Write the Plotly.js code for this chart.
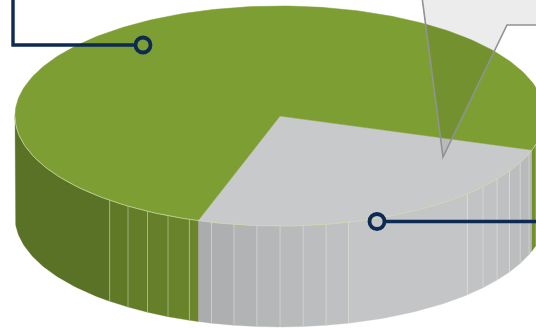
<!DOCTYPE html>
<html>
<head>
<meta charset="utf-8">
<script src="https://cdn.plot.ly/plotly-3.0.1.min.js"></script>
<style>html,body{margin:0;padding:0;background:#fff;}#chart{width:536px;height:328px;}</style>
</head>
<body>
<div id="chart"></div>
<script>
// ---- data ----
const categories = ['Gray share', 'Green share'];
const values = [25, 75];
const topColors = ['#c8c9cb', '#7d9e33'];
const startAngle = 18; // degrees, measured clockwise on screen from east

// ---- geometry (3-D pie projection) ----
const cx = 280, cy = 116, rx = 265, ry = 110, depth = 101;
const rad = d => d * Math.PI / 180;
const px = a => cx + rx * Math.cos(rad(a));
const py = (a, dz) => cy + ry * Math.sin(rad(a)) + (dz || 0);

function hexToRgb(h){h=h.replace('#','');return [0,2,4].map(i=>parseInt(h.substr(i,2),16));}
function shade(hex, f){return 'rgb('+hexToRgb(hex).map(v=>Math.max(0,Math.min(255,Math.round(v*f)))).join(',')+')';}
function bright(a){
  const c = Math.cos(rad(a - 55));
  return 0.72 + 0.26 * (c > 0 ? Math.pow(c, 1.39) : 0);
}
// facet boundaries every 5 degrees except over the smooth stretches
function isBoundary(a){
  const m = ((a % 360) + 360) % 360;
  if (m > 46 && m < 73) return false;
  if (m > 134 && m < 180) return false;
  return true;
}

const total = values.reduce((s,v)=>s+v,0);
const traces = [];
let acc = startAngle;
const slices = values.map((v,i)=>{const a0=acc;acc+=v/total*360;return {a0:a0,a1:acc,i:i};});

const step = 5;
function addFacet(s, a, b){
  const mid = (((a+b)/2) % 360 + 360) % 360;
  if (!(mid > 0 && mid < 180)) return;
  const xs=[], ys=[];
  const n = Math.max(2, Math.ceil(b-a));
  for (let k=0;k<=n;k++){const t=a+(b-a)*k/n;xs.push(px(t));ys.push(py(t));}
  for (let k=n;k>=0;k--){const t=a+(b-a)*k/n;xs.push(px(t));ys.push(py(t,depth));}
  xs.push(xs[0]); ys.push(ys[0]);
  const f = bright(mid);
  traces.push({type:'scatter',mode:'lines',x:xs,y:ys,fill:'toself',
    fillcolor:shade(topColors[s.i], f),
    line:{color:shade(topColors[s.i], f),width:0.3},
    hoverinfo:'skip',showlegend:false});
}
const seps = [];
slices.forEach(s=>{
  let a = s.a0, segStart = s.a0;
  while (a < s.a1 - 1e-9) {
    let b = Math.min(s.a1, (Math.floor(a/step)+1)*step);
    // split at 0/180/360 visibility limits too
    [180,360].forEach(lim=>{ if (a < lim && b > lim) b = lim; });
    const m = ((b % 360) + 360) % 360;
    if (b >= s.a1 - 1e-9 || isBoundary(b) || m === 0 || m === 180) {
      addFacet(s, segStart, b);
      if (b < s.a1 - 1e-9 && m > 0 && m < 180) seps.push(b);
      segStart = b;
    }
    a = b;
  }
});

// light separator lines between facets
seps.forEach(t=>{
  traces.push({type:'scatter',mode:'lines',x:[px(t),px(t)],y:[py(t),py(t,depth)],
    line:{color:'rgba(235,240,225,0.55)',width:0.8},hoverinfo:'skip',showlegend:false});
});

// top faces
slices.forEach(s=>{
  const xs=[cx], ys=[cy];
  const n = Math.ceil(s.a1 - s.a0);
  for (let k=0;k<=n;k++){const t=s.a0+(s.a1-s.a0)*k/n;xs.push(px(t));ys.push(py(t));}
  xs.push(cx); ys.push(cy);
  traces.push({type:'scatter',mode:'lines',x:xs,y:ys,fill:'toself',
    fillcolor:topColors[s.i],line:{color:topColors[s.i],width:0.5},
    name:categories[s.i],hoverinfo:'name',showlegend:false});
});

// rim highlight along the front edge
(function(){
  const xs=[], ys=[];
  for (let t=0;t<=180;t++){xs.push(px(t));ys.push(py(t));}
  traces.push({type:'scatter',mode:'lines',x:xs,y:ys,
    line:{color:'rgba(205,218,170,0.95)',width:0.8},hoverinfo:'skip',showlegend:false});
})();

const navy = '#0c2a52';
const layout = {
  width:536, height:328,
  margin:{l:0,r:0,t:0,b:0},
  paper_bgcolor:'#ffffff', plot_bgcolor:'#ffffff',
  xaxis:{range:[0,536],visible:false,fixedrange:true},
  yaxis:{range:[328,0],visible:false,fixedrange:true},
  showlegend:false,
  shapes:[
    {type:'path',xref:'x',yref:'y',path:'M 422,-3 L 443,157 L 507,25 L 545,25 L 545,-3 Z',
      fillcolor:'rgba(0,0,0,0.075)',line:{color:'#8f9296',width:1.6}},
    {type:'path',xref:'x',yref:'y',path:'M 13,-5 L 13,45 L 135,45',line:{color:navy,width:3.4}},
    {type:'circle',xref:'x',yref:'y',x0:135.5,x1:150.5,y0:37.5,y1:52.5,line:{color:navy,width:3.8}},
    {type:'path',xref:'x',yref:'y',path:'M 385,221.5 L 545,221.5',line:{color:navy,width:3.4}},
    {type:'circle',xref:'x',yref:'y',x0:369.5,x1:384.5,y0:214,y1:229,line:{color:navy,width:3.8}}
  ]
};
Plotly.newPlot('chart', traces, layout, {displayModeBar:false, staticPlot:true});
</script>
</body>
</html>
